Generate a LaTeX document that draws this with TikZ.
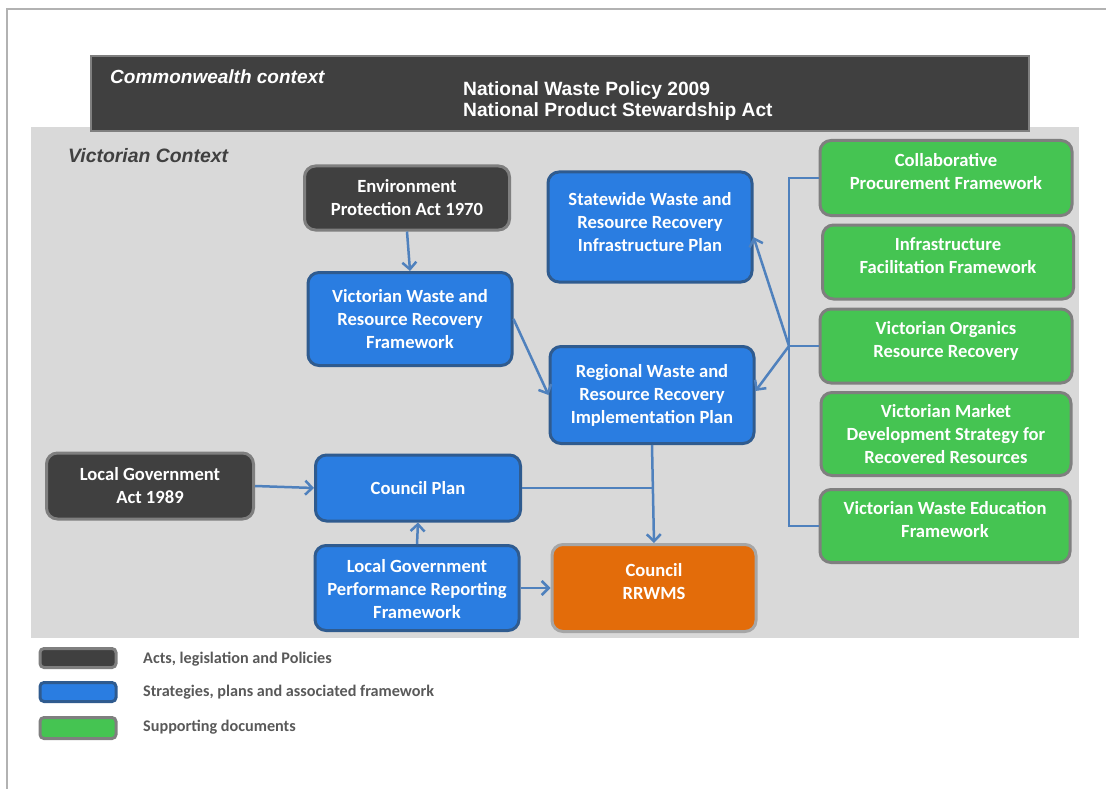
\documentclass[tikz,border=0pt]{standalone}
\usepackage{fontspec}
\setmainfont{Carlito}
\newfontfamily\arialfont{Liberation Sans}
\usetikzlibrary{arrows.meta}
\definecolor{darkfill}{HTML}{404040}
\definecolor{greyedge}{HTML}{7F7F7F}
\definecolor{bluefill}{HTML}{2A7DE1}
\definecolor{blueedge}{HTML}{2F5B8F}
\definecolor{greenfill}{HTML}{45C452}
\definecolor{orangefill}{HTML}{E36C0A}
\definecolor{orangeedge}{HTML}{A6A6A6}
\definecolor{ctxgrey}{HTML}{D9D9D9}
\definecolor{arrowblue}{HTML}{4F81BD}
\definecolor{legendtext}{HTML}{595959}
\newcommand{\liftedtext}[2][5pt]{\raisebox{#1}[\height][\depth]{\begin{tabular}{@{}c@{}}#2\end{tabular}}}
\tikzset{
  box/.style={rounded corners=11pt, line width=3pt, text=white, align=center,
    font=\fontsize{18.6}{23}\selectfont\bfseries, inner sep=0pt},
  actbox/.style={box, fill=darkfill, draw=greyedge},
  planbox/.style={box, fill=bluefill, draw=blueedge},
  supbox/.style={box, fill=greenfill, draw=greyedge},
  outbox/.style={box, fill=orangefill, draw=orangeedge},
  link/.style={draw=arrowblue, line width=2.5pt},
  arrowlink/.style={link, -{Straight Barb[length=7pt,width=14pt,line width=2.5pt]}},
  legbox/.style={rounded corners=4pt, line width=3pt, minimum width=76pt, minimum height=19pt, inner sep=0pt},
  legtext/.style={anchor=west, text=legendtext, font=\fontsize{16.2}{18}\selectfont\bfseries, inner sep=0pt}
}
\begin{document}
\begin{tikzpicture}[x=1pt,y=-1pt]
\useasboundingbox (0,0) rectangle (1106,789);
% outer frame
\draw[line width=1.5pt, draw=black!30] (7,789) -- (7,9) -- (1106,9);
% victorian context
\fill[ctxgrey] (31,127) rectangle (1079,638);
\node[anchor=west, text=darkfill, font=\arialfont\fontsize{19.4}{22}\selectfont\bfseries\itshape, inner sep=0pt] (vicctx) at (68,156) {Victorian Context};
% commonwealth banner
\node[draw=greyedge, fill=darkfill, line width=2.5pt, minimum width=938pt, minimum height=75pt, inner sep=0pt] (banner) at (560,93.5) {};
\node[anchor=west, text=white, font=\arialfont\fontsize{19}{22}\selectfont\bfseries\itshape, inner sep=0pt] (cwctx) at (110,77) {Commonwealth context};
\node[anchor=west, text=white, align=left, font=\arialfont\fontsize{19.2}{21}\selectfont\bfseries, inner sep=0pt] (natl) at (463,101.5) {National Waste Policy 2009\\National Product Stewardship Act};
% nodes
\node[actbox, minimum width=205pt, minimum height=64pt] (epa) at (407,198) {Environment\\Protection Act 1970};
\node[planbox, minimum width=204pt, minimum height=93pt] (vwrrf) at (410,319) {Victorian Waste and\\Resource Recovery\\Framework};
\node[planbox, minimum width=204pt, minimum height=110pt] (swrrip) at (650,227) {\liftedtext[3pt]{Statewide Waste and\\Resource Recovery\\Infrastructure Plan}};
\node[planbox, minimum width=204pt, minimum height=97pt] (rwrrip) at (652,395) {Regional Waste and\\Resource Recovery\\Implementation Plan};
\node[actbox, minimum width=207pt, minimum height=66pt] (lga) at (150,486) {Local Government\\Act 1989};
\node[planbox, minimum width=205pt, minimum height=66pt] (cplan) at (418,488) {Council Plan};
\node[planbox, minimum width=204pt, minimum height=85pt] (lgprf) at (417,588) {\liftedtext[-3pt]{Local Government\\Performance Reporting\\Framework}};
\node[outbox, minimum width=204pt, minimum height=87pt] (rrwms) at (654,588) {\liftedtext{Council\\RRWMS}};
\node[supbox, minimum width=252pt, minimum height=75pt] (collab) at (946,178) {\liftedtext{Collaborative\\Procurement Framework}};
\node[supbox, minimum width=251pt, minimum height=74pt] (infra) at (948,262) {\liftedtext{Infrastructure\\Facilitation Framework}};
\node[supbox, minimum width=252pt, minimum height=74pt] (organics) at (946,346) {\liftedtext{Victorian Organics\\Resource Recovery}};
\node[supbox, minimum width=250pt, minimum height=83pt] (market) at (946,434) {Victorian Market\\Development Strategy for\\Recovered Resources};
\node[supbox, minimum width=250pt, minimum height=73pt] (educ) at (945,526) {\liftedtext{Victorian Waste Education\\Framework}};
% connectors
\coordinate (btop) at (789,178);
\coordinate (bmid) at (789,346);
\coordinate (bbot) at (789,526);
\draw[link] (collab.west) -- (btop) -- (bbot) -- (educ.west);
\draw[link] (bmid) -- (organics.west);
\draw[arrowlink] (bmid) -- ([yshift=-10pt]swrrip.east);
\draw[arrowlink] (bmid) -- ([yshift=4pt]rwrrip.east);
\draw[arrowlink] (epa.south) -- (vwrrf.north);
\draw[arrowlink] (vwrrf.east) -- (rwrrip.west);
\draw[arrowlink] (rwrrip.south) -- (rrwms.north);
\coordinate (join) at (rwrrip.south |- cplan.east);
\draw[link] (cplan.east) -- (join);
\draw[arrowlink] (lga.east) -- (cplan.west);
\draw[arrowlink] (lgprf.north) -- (cplan.south);
\draw[arrowlink] (lgprf.east) -- (rrwms.west);
% legend
\node[legbox, fill=darkfill, draw=greyedge] (leg1) at (78,658) {};
\node[legbox, fill=bluefill, draw=blueedge] (leg2) at (78,692) {};
\node[legbox, fill=greenfill, draw=greyedge, minimum height=21pt] (leg3) at (78,728) {};
\node[legtext] (legt1) at (143,659) {Acts, legislation and Policies};
\node[legtext] (legt2) at (143,692) {Strategies, plans and associated framework};
\node[legtext] (legt3) at (143,727) {Supporting documents};
\end{tikzpicture}
\end{document}
